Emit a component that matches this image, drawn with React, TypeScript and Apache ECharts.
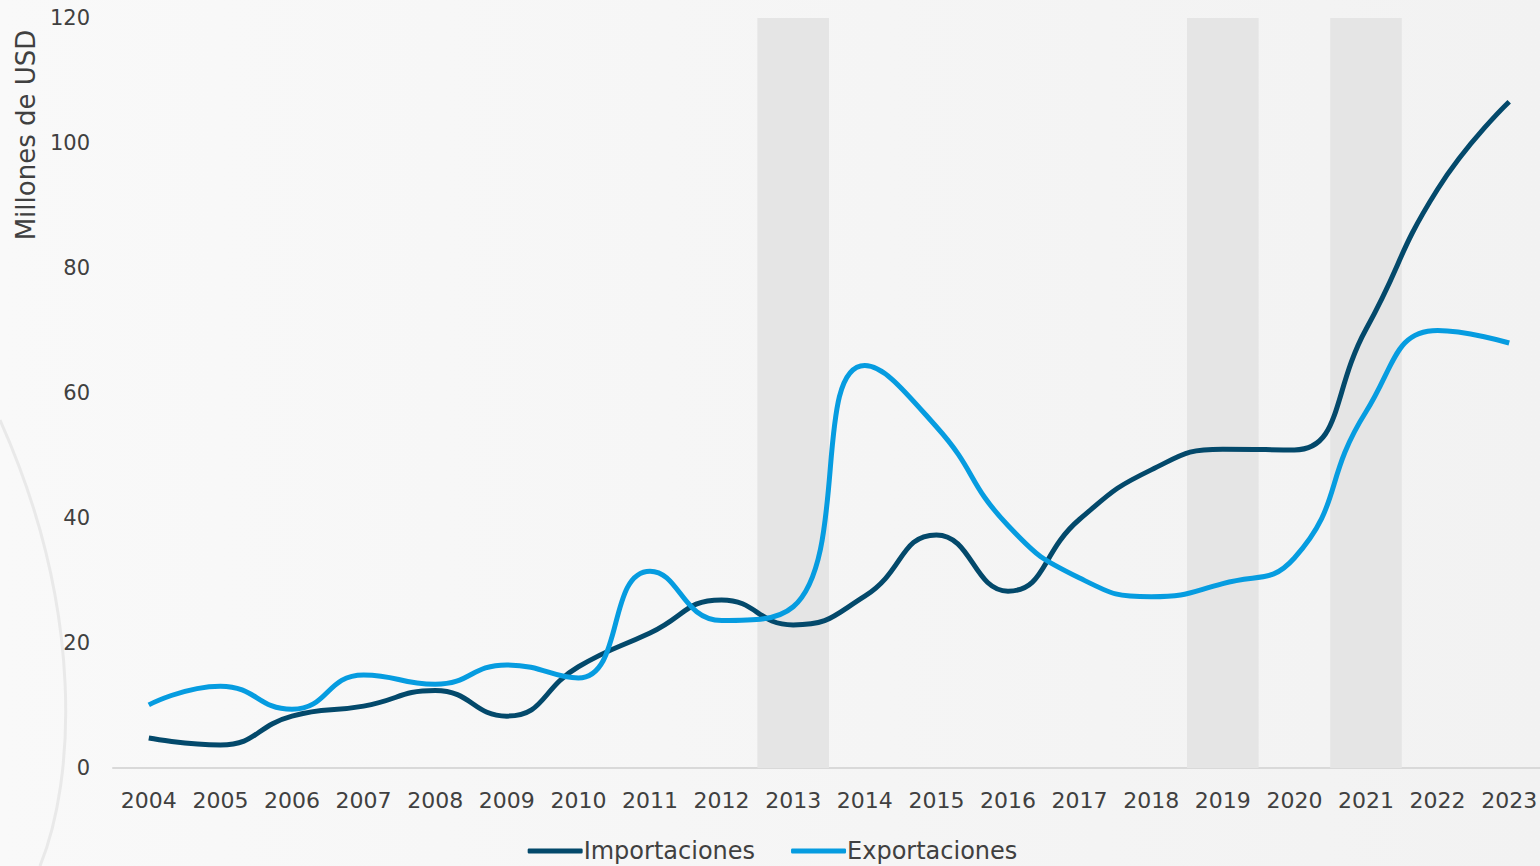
import React, { useEffect, useRef } from "react";
import * as echarts from "echarts";

const years = ["2004","2005","2006","2007","2008","2009","2010","2011","2012","2013","2014","2015","2016","2017","2018","2019","2020","2021","2022","2023"];
const importaciones = [4.8, 3.7, 8.3, 9.9, 12.4, 8.3, 16.2, 21.6, 26.9, 22.9, 27.5, 37.3, 28.3, 39.8, 47.7, 51.0, 50.9, 70.2, 92.6, 106.6];
const exportaciones = [10.1, 13.1, 9.4, 14.9, 13.4, 16.5, 14.4, 31.5, 23.6, 25.8, 64.4, 54.6, 38.8, 30.4, 27.4, 29.5, 33.6, 57.0, 70.0, 68.0];
const shadedYears = ["2013", "2019", "2021"];
const yTicks = [0, 20, 40, 60, 80, 100, 120];

const FONT = "'DejaVu Sans', sans-serif";

export default function App() {
  const ref = useRef<HTMLDivElement>(null);
  useEffect(() => {
    if (!ref.current) return;
    const chart = echarts.init(ref.current, null, { renderer: "svg" });
    const shadeData = years.map((y) => (shadedYears.includes(y) ? yTicks[yTicks.length - 1] : null));
    chart.setOption({
      animation: false,
      backgroundColor: {
        type: "linear", x: 0, y: 0, x2: 1, y2: 0,
        colorStops: [
          { offset: 0, color: "#f9f9f9" },
          { offset: 1, color: "#f2f2f2" },
        ],
      },
      textStyle: { fontFamily: FONT },
      grid: { left: 113, right: 0, top: 18, bottom: 98 },
      graphic: [
        {
          type: "bezierCurve",
          shape: { x1: 0, y1: 420, cpx1: 85, cpy1: 610, cpx2: 75, cpy2: 780, x2: 40, y2: 866 },
          style: { stroke: "#e9e9e9", lineWidth: 3, fill: null },
          z: -1,
        },
        {
          type: "text",
          x: 26, y: 135,
          rotation: Math.PI / 2,
          style: {
            text: "Millones de USD",
            fill: "#404040",
            font: `26px ${FONT}`,
            textAlign: "center",
            textVerticalAlign: "middle",
          },
        },
      ],
      legend: {
        data: ["Importaciones", "Exportaciones"],
        bottom: -2,
        left: "center",
        itemWidth: 55,
        itemHeight: 5,
        itemGap: 36,
        icon: "roundRect",
        textStyle: { color: "#404040", fontSize: 24, fontFamily: FONT, padding: [0, 0, 0, -4] },
      },
      xAxis: {
        type: "category",
        data: years,
        boundaryGap: true,
        axisLine: { lineStyle: { color: "#d9d9d9", width: 2 } },
        axisTick: { show: false },
        axisLabel: { color: "#404040", fontSize: 22, margin: 21, fontFamily: FONT, interval: 0 },
      },
      yAxis: {
        type: "value",
        min: 0,
        max: 120,
        interval: 20,
        axisLine: { show: false },
        axisTick: { show: false },
        splitLine: { show: false },
        axisLabel: { color: "#404040", fontSize: 21, margin: 23, fontFamily: FONT },
      },
      series: [
        {
          name: "shade",
          type: "bar",
          data: shadeData,
          barWidth: "100%",
          barGap: "-100%",
          itemStyle: { color: "#e5e5e5" },
          silent: true,
          z: 1,
        },
        {
          name: "Importaciones",
          type: "line",
          data: importaciones,
          smooth: 0.5,
          showSymbol: false,
          symbol: "none",
          lineStyle: { color: "#03496b", width: 5 },
          itemStyle: { color: "#03496b" },
          z: 3,
        },
        {
          name: "Exportaciones",
          type: "line",
          data: exportaciones,
          smooth: 0.5,
          showSymbol: false,
          symbol: "none",
          lineStyle: { color: "#069ce0", width: 5 },
          itemStyle: { color: "#069ce0" },
          z: 4,
        },
      ],
    });
    return () => chart.dispose();
  }, []);
  return (
    <div style={{ position: "fixed", left: 0, top: 0, width: 1540, height: 866, overflow: "hidden" }}>
      <div ref={ref} style={{ width: 1545, height: 866 }} />
    </div>
  );
}
